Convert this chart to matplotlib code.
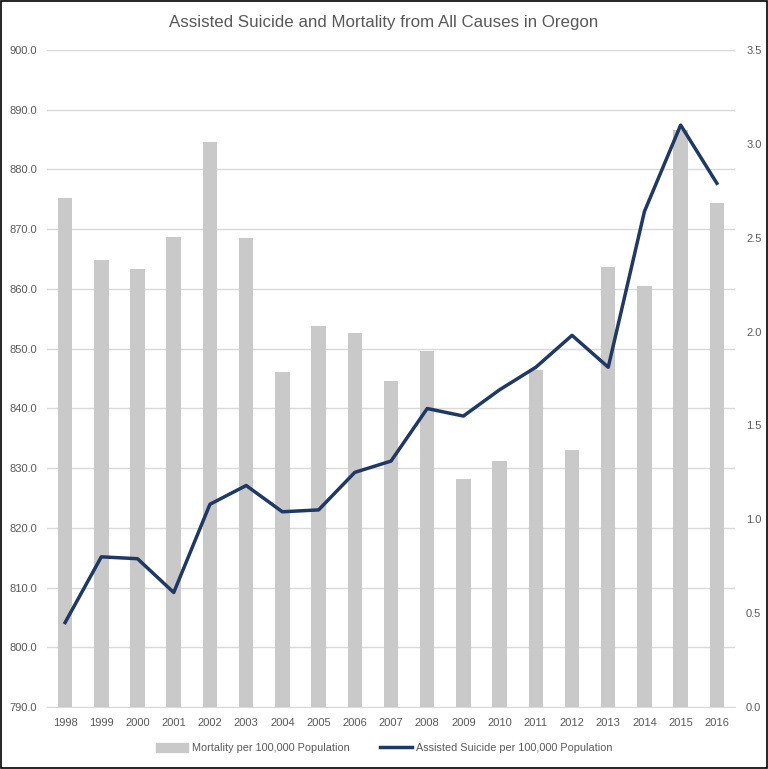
import matplotlib
matplotlib.use("Agg")
import matplotlib.pyplot as plt
from matplotlib.patches import Rectangle
from matplotlib.lines import Line2D
from matplotlib.patches import Patch

plt.rcParams['font.family'] = ['Liberation Sans', 'DejaVu Sans']

years = ['1998', '1999', '2000', '2001', '2002', '2003', '2004', '2005', '2006', '2007',
         '2008', '2009', '2010', '2011', '2012', '2013', '2014', '2015', '2016']
mortality = [875.2, 864.8, 863.4, 868.7, 884.6, 868.5, 846.1, 853.8, 852.6, 844.6,
             849.6, 828.2, 831.2, 846.4, 833.0, 863.7, 860.5, 886.6, 874.4]
assisted = [0.45, 0.80, 0.79, 0.61, 1.08, 1.18, 1.04, 1.05, 1.25, 1.31,
            1.59, 1.55, 1.69, 1.81, 1.98, 1.81, 2.64, 3.10, 2.79]
left_ticks = [790, 800, 810, 820, 830, 840, 850, 860, 870, 880, 890, 900]
right_ticks = [0.0, 0.5, 1.0, 1.5, 2.0, 2.5, 3.0, 3.5]

txt = '#595959'
fig = plt.figure(figsize=(7.68, 7.69), dpi=100)
ax = fig.add_axes([0.0612, 0.0806, 0.8958, 0.8544])
x = list(range(len(years)))
ax.bar(x, [m - 790 for m in mortality], bottom=790, width=0.4, color='#C9C9C9', zorder=2)
ax.set_ylim(790, 900)
ax.set_xlim(-0.5, len(years) - 0.5)
ax.set_yticks(left_ticks)
ax.set_yticklabels([f'{t:.1f}' for t in left_ticks])
ax.yaxis.grid(True, color='#D9D9D9', linewidth=1)
ax.set_axisbelow(True)
ax.set_xticks(x)
ax.set_xticklabels(years)
for s in ax.spines.values():
    s.set_visible(False)
ax.spines['bottom'].set_visible(True)
ax.spines['bottom'].set_color('#D9D9D9')
ax.tick_params(axis='both', length=0, colors=txt, labelsize=8)
ax.tick_params(axis='y', pad=7)
ax.tick_params(axis='x', pad=8)

ax2 = ax.twinx()
ax2.plot(x, assisted, color='#203864', linewidth=2.5, zorder=3)
ax2.set_ylim(0, 3.5)
ax2.set_yticks(right_ticks)
ax2.set_yticklabels([f'{t:.1f}' for t in right_ticks])
for s in ax2.spines.values():
    s.set_visible(False)
ax2.tick_params(axis='y', length=0, colors=txt, labelsize=8, pad=8)

fig.text(0.5, 0.971, 'Assisted Suicide and Mortality from All Causes in Oregon',
         ha='center', va='center', fontsize=12.2, color=txt)

handles = [Patch(color='#C9C9C9'), Line2D([0], [0], color='#203864', linewidth=2.5)]
fig.legend(handles, ['Mortality per 100,000 Population', 'Assisted Suicide per 100,000 Population'],
           loc='center', bbox_to_anchor=(0.5, 0.027), ncol=2, frameon=False,
           fontsize=7.8, labelcolor=txt, handlelength=3.0, handleheight=0.9,
           columnspacing=2.8, handletextpad=0.3)

fig.add_artist(Rectangle((0.0008, 0.0008), 0.9984, 0.9984, transform=fig.transFigure,
                         fill=False, edgecolor='black', linewidth=1.2))
fig.savefig('out.png', dpi=100)
